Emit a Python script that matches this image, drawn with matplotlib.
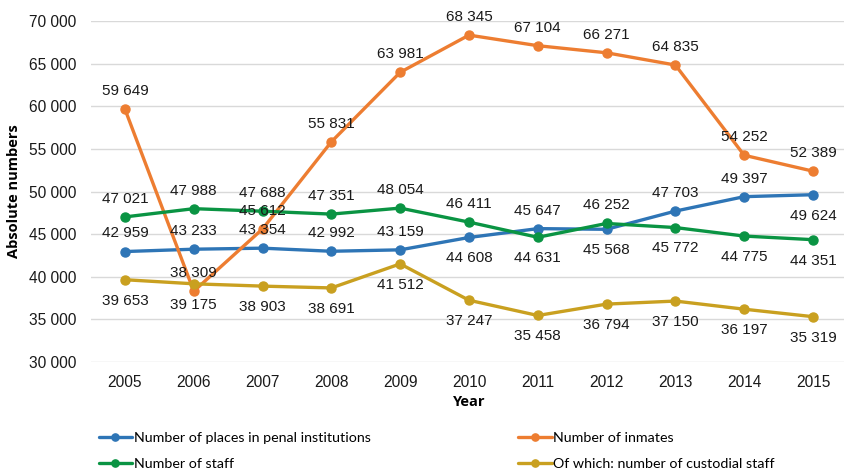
import matplotlib
matplotlib.use("Agg")
import matplotlib.pyplot as plt
import numpy as np

years = ["2005", "2006", "2007", "2008", "2009", "2010", "2011", "2012", "2013", "2014", "2015"]

places = [42959, 43233, 43354, 42992, 43159, 44608, 45647, 45568, 47703, 49397, 49624]
inmates = [59649, 38309, 45612, 55831, 63981, 68345, 67104, 66271, 64835, 54252, 52389]
staff = [47021, 47988, 47688, 47351, 48054, 46411, 44631, 46252, 45772, 44775, 44351]
custodial = [39653, 39175, 38903, 38691, 41512, 37247, 35458, 36794, 37150, 36197, 35319]

# where each data label sits: 1 = above the point, -1 = below
places_pos = [1, 1, 1, 1, 1, -1, 1, -1, 1, 1, -1]
inmates_pos = [1] * 11
staff_pos = [1, 1, 1, 1, 1, 1, -1, 1, -1, -1, -1]
custodial_pos = [-1] * 11

series = [
    ("Number of places in penal institutions", places, places_pos, "#2E75B6"),
    ("Number of inmates", inmates, inmates_pos, "#ED7D31"),
    ("Number of staff", staff, staff_pos, "#0A9443"),
    ("Of which: number of custodial staff", custodial, custodial_pos, "#C9A020"),
]

def fmt(v):
    return f"{v:,}".replace(",", " ")

plt.rcParams["font.family"] = ["Liberation Sans", "DejaVu Sans"]

fig = plt.figure(figsize=(8.45, 4.72), dpi=100)
ax = fig.add_axes([0.1072, 0.233, 0.8956, 0.7225])

x = np.arange(len(years))
lines = []
for name, vals, pos, col in series:
    ln, = ax.plot(x, vals, color=col, lw=2.4, marker="o", ms=6.5, label=name,
                  solid_capstyle="round", zorder=3)
    lines.append(ln)
    for xi, v, p in zip(x, vals, pos):
        off = 13 if p > 0 else -15
        ax.annotate(fmt(v), (xi, v), xytext=(0, off), textcoords="offset points",
                    ha="center", va="center", fontsize=11, color="#1a1a1a", zorder=4)

ax.set_xlim(-0.5, 10.5)
ax.set_ylim(30000, 70000)
ax.set_yticks(np.arange(30000, 70001, 5000))
ax.set_yticklabels([fmt(v) for v in range(30000, 70001, 5000)])
ax.set_xticks(x)
ax.set_xticklabels(years)
ax.tick_params(axis="both", length=0, labelsize=11.2, colors="#1a1a1a")
ax.tick_params(axis="x", pad=9)
ax.tick_params(axis="y", pad=10)
ax.grid(axis="y", color="#D9D9D9", lw=1)
ax.set_axisbelow(True)
for s in ax.spines.values():
    s.set_visible(False)

ax.set_xlabel("Year", fontsize=10.5, fontweight="bold", family=["Open Sans", "DejaVu Sans"], labelpad=4)
ax.set_ylabel("Absolute numbers", fontsize=10.5, fontweight="bold", family=["Open Sans", "DejaVu Sans"], labelpad=6)

# legend fills rows: blue, orange / green, yellow
order = [lines[0], lines[2], lines[1], lines[3]]
fig.legend(handles=order, labels=[l.get_label() for l in order], ncol=2,
           loc="lower left", bbox_to_anchor=(0.1015, -0.022), frameon=False,
           prop={"family": ["Lato", "DejaVu Sans"], "size": 10.3},
           handlelength=2.35, handletextpad=0.1, columnspacing=10.3, labelspacing=0.95,
           markerscale=0.8)

fig.savefig("out.png", dpi=100)
